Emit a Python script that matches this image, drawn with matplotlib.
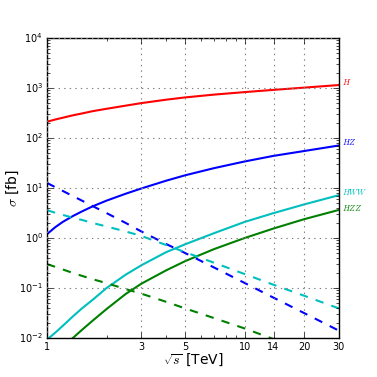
import matplotlib
matplotlib.use("Agg")
import matplotlib.pyplot as plt
from matplotlib.ticker import FixedLocator, FixedFormatter, LogLocator, NullFormatter

# centre-of-mass energy [TeV]
sqrt_s = [1, 1.1, 1.2, 1.35, 1.5, 1.7, 2, 2.5, 3, 4, 5, 7, 10, 14, 20, 30]

# cross sections [fb]
h_solid   = [212, 235, 255, 285, 310, 345, 385, 445, 500, 585, 650, 740, 830, 920, 1020, 1150]
hz_solid  = [1.2, 1.65, 2.1, 2.75, 3.4, 4.3, 5.6, 7.7, 9.8, 14, 18, 25, 34, 44, 55, 71]
hww_solid = [0.0093, 0.0128, 0.0175, 0.027, 0.039, 0.058, 0.1, 0.185, 0.285, 0.52, 0.75, 1.25, 2.1, 3.15, 4.7, 7.2]
hzz_solid = [0.0034, 0.0048, 0.0066, 0.01, 0.0145, 0.0222, 0.038, 0.076, 0.122, 0.225, 0.345, 0.6, 1.0, 1.55, 2.38, 3.65]

hz_dash   = [12.6, 10.4, 8.75, 6.9, 5.6, 4.35, 3.15, 2.0, 1.35, 0.76, 0.5, 0.257, 0.126, 0.064, 0.0315, 0.014]
hww_dash  = [3.6, 3.2, 2.9, 2.55, 2.3, 2.0, 1.7, 1.35, 1.1, 0.725, 0.52, 0.32, 0.19, 0.116, 0.07, 0.039]
hzz_dash  = [0.30, 0.265, 0.235, 0.2, 0.175, 0.15, 0.125, 0.095, 0.077, 0.053, 0.039, 0.025, 0.0155, 0.0095, 0.0058, 0.0033]

labels = ["$H$", "$HZ$", "$HWW$", "$HZZ$"]
label_y = [1320, 82, 8.4, 3.9]
xticks = [1, 3, 5, 10, 14, 20, 30]

plt.style.use("classic")
fig = plt.figure(figsize=(3.77, 3.77), dpi=100, facecolor="white")
ax = fig.add_axes([0.125, 0.1035, 0.774, 0.7955])

ax.loglog(sqrt_s, h_solid, color="r", lw=1.5)
ax.loglog(sqrt_s, hz_solid, color="b", lw=1.5)
ax.loglog(sqrt_s, hww_solid, color="c", lw=1.5)
ax.loglog(sqrt_s, hzz_solid, color="g", lw=1.5)
ax.loglog(sqrt_s, hz_dash, color="b", lw=1.5, ls="--")
ax.loglog(sqrt_s, hww_dash, color="c", lw=1.5, ls="--")
ax.loglog(sqrt_s, hzz_dash, color="g", lw=1.5, ls="--")

for txt, y, c in zip(labels, label_y, ["r", "b", "c", "g"]):
    ax.text(31, y, txt, color=c, fontsize=6, va="center", ha="left")

ax.set_xlim(1, 30)
ax.set_ylim(1e-2, 1e4)
ax.xaxis.set_major_locator(FixedLocator(xticks))
ax.xaxis.set_major_formatter(FixedFormatter([str(t) for t in xticks]))
ax.xaxis.set_minor_locator(LogLocator(base=10, subs=range(2, 10)))
ax.xaxis.set_minor_formatter(NullFormatter())
ax.yaxis.set_major_locator(LogLocator(base=10, numticks=10))
ax.yaxis.set_minor_locator(LogLocator(base=10, subs=range(2, 10), numticks=20))
ax.yaxis.set_minor_formatter(NullFormatter())
ax.xaxis.get_offset_text().set_visible(False)
ax.tick_params(labelsize=7, pad=3)
ax.grid(True, which="major", color="gray", ls=":", lw=0.8)

ax.set_xlabel(r"$\sqrt{s}$ [TeV]", fontsize=10)
ax.set_ylabel(r"$\sigma$ [fb]", fontsize=10)
ax.xaxis.set_label_coords(0.5, -0.047)
ax.yaxis.set_label_coords(-0.089, 0.5)

fig.savefig("out.png", dpi=100, facecolor="white")
